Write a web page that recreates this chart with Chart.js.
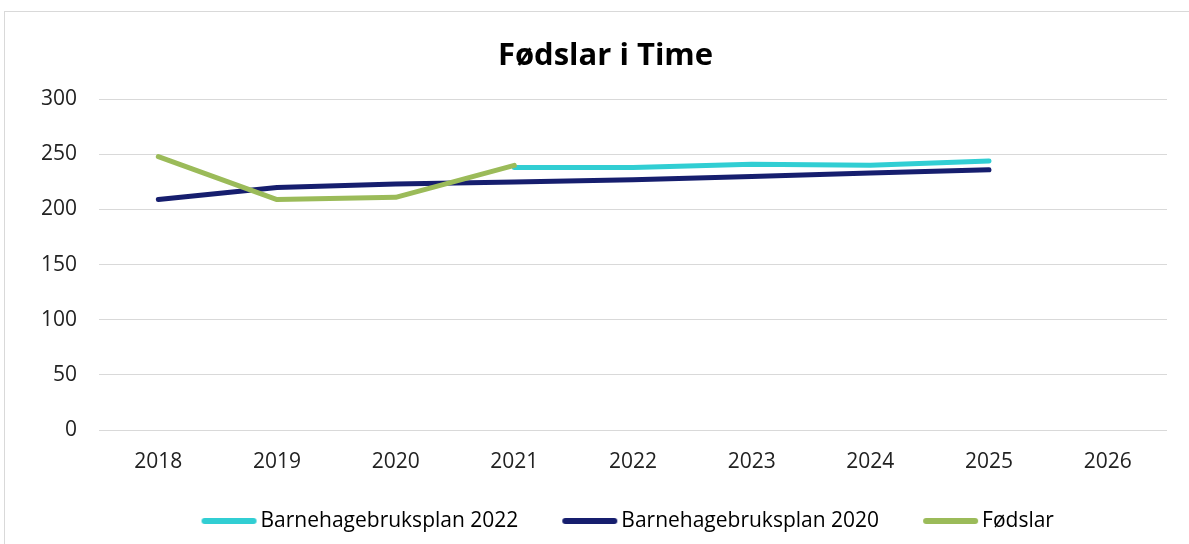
<!DOCTYPE html>
<html>
<head>
<meta charset="utf-8">
<script src="https://cdn.jsdelivr.net/npm/chart.js@4.4.1/dist/chart.umd.min.js"></script>
<style>
  html, body { margin: 0; padding: 0; background: #fff; }
  #wrap { position: relative; width: 1189px; height: 544px; overflow: hidden; }
  #frame { position: absolute; left: 4px; top: 11px; width: 1200px; height: 540px; border: 1px solid #d9d9d9; box-sizing: border-box; pointer-events: none; }
  canvas { position: absolute; left: 0; top: 0; }
</style>
</head>
<body>
<div id="wrap">
  <canvas id="c" width="1189" height="544"></canvas>
  <div id="frame"></div>
</div>
<script>
const categories = ['2018', '2019', '2020', '2021', '2022', '2023', '2024', '2025', '2026'];
const plan2022 = [null, null, null, 238, 238, 241, 240, 244, null];
const plan2020 = [209, 220, 223, 225, 227, 230, 233, 236, null];
const fodslar = [248, 209, 211, 240, null, null, null, null, null];
const yTicks = [0, 50, 100, 150, 200, 250, 300];
const titleText = 'Fødslar i Time';

const FONT = "'Open Sans', 'Liberation Sans', sans-serif";

// legend swatch: a 55px rounded line drawn near the right of a 70px image
function swatch(color) {
  const c = document.createElement('canvas');
  c.width = 70; c.height = 8;
  const g = c.getContext('2d');
  g.strokeStyle = color; g.lineWidth = 6; g.lineCap = 'round';
  g.beginPath(); g.moveTo(17, 4); g.lineTo(66, 4); g.stroke();
  return c;
}

function ds(label, data, color, order) {
  return {
    label, data,
    borderColor: color, backgroundColor: color,
    borderWidth: 5, borderCapStyle: 'round', borderJoinStyle: 'round',
    pointRadius: 0, pointHoverRadius: 0, tension: 0, spanGaps: false,
    pointStyle: swatch(color), order
  };
}

const shiftPlugin = {
  id: 'shiftBoxes',
  afterLayout(chart) {
    const t = chart.titleBlock;
    if (t) { t.left = 44; }
    const l = chart.legend;
    if (l) { l.left += 41; l.right += 41; }
  }
};

new Chart(document.getElementById('c'), {
  type: 'line',
  data: {
    labels: categories,
    datasets: [
      ds('Barnehagebruksplan 2022', plan2022, '#31CED3', 1),
      ds('Barnehagebruksplan 2020', plan2020, '#161E6E', 2),
      ds('Fødslar', fodslar, '#9BBB59', 0)
    ]
  },
  plugins: [shiftPlugin],
  options: {
    responsive: false,
    animation: false,
    layout: { padding: { left: 0, right: 22, top: 0, bottom: 2.5 } },
    plugins: {
      tooltip: { enabled: false },
      title: {
        display: true, text: titleText, color: '#000',
        font: { family: FONT, size: 31, weight: 'bold' },
        padding: { top: 38, bottom: 24 }
      },
      legend: {
        position: 'bottom',
        labels: {
          color: '#000',
          font: { family: FONT, size: 21 },
          usePointStyle: true,
          pointStyleWidth: 55,
          boxHeight: 21,
          padding: 37.5,
          sort: (a, b) => a.datasetIndex - b.datasetIndex
        }
      }
    },
    scales: {
      x: {
        offset: true,
        grid: { display: false },
        border: { display: false },
        ticks: { color: '#222', font: { family: FONT, size: 21 }, padding: 11, maxRotation: 0 },
        afterFit: (s) => { s.height = 43; }
      },
      y: {
        min: 0, max: 300,
        afterBuildTicks: (s) => { s.ticks = yTicks.map(v => ({ value: v })); },
        grid: { color: '#d9d9d9', lineWidth: 1, drawTicks: false },
        border: { display: false },
        ticks: { color: '#222', font: { family: FONT, size: 21 }, padding: 22 },
        afterFit: (s) => { s.width = 99; }
      }
    }
  }
});
</script>
</body>
</html>
